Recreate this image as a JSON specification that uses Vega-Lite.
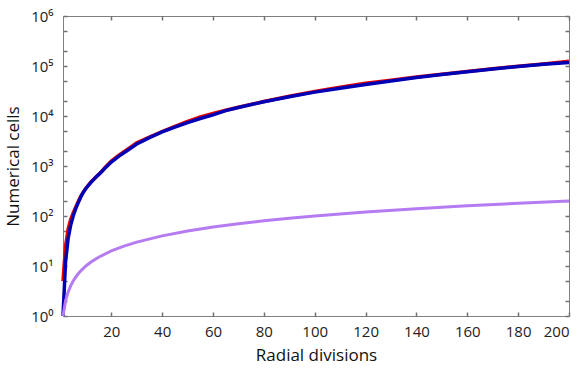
{
  "$schema": "https://vega.github.io/schema/vega-lite/v6.json",
  "width": 506,
  "height": 300,
  "autosize": {"type": "none"},
  "padding": {"left": 63, "top": 16, "right": 16, "bottom": 58},
  "config": {
    "view": {"stroke": "#808080", "strokeWidth": 1},
    "font": "Open Sans",
    "axis": {"grid": false, "domain": false, "tickColor": "#707070", "tickWidth": 1.5, "tickSize": -4, "labelColor": "#222222", "titleColor": "#111111", "labelFont": "Open Sans", "titleFont": "Open Sans", "titleFontWeight": "normal", "labelFontSize": 15, "titleFontSize": 17}
  },
  "datasets": {
    "cells": [
      {"x":1,"s":"red","y":5},{"x":2,"s":"red","y":25},{"x":3,"s":"red","y":55},{"x":4,"s":"red","y":85},{"x":5,"s":"red","y":115},{"x":6,"s":"red","y":150},{"x":7,"s":"red","y":195},{"x":8,"s":"red","y":250},{"x":9,"s":"red","y":300},{"x":10,"s":"red","y":360},{"x":12,"s":"red","y":480},{"x":14,"s":"red","y":600},{"x":16,"s":"red","y":760},{"x":18,"s":"red","y":990},{"x":20,"s":"red","y":1250},{"x":23,"s":"red","y":1650},{"x":26,"s":"red","y":2100},{"x":30,"s":"red","y":2900},{"x":35,"s":"red","y":3800},{"x":40,"s":"red","y":4900},{"x":45,"s":"red","y":6200},{"x":50,"s":"red","y":7800},{"x":55,"s":"red","y":9600},{"x":60,"s":"red","y":11200},{"x":65,"s":"red","y":13000},{"x":70,"s":"red","y":15000},{"x":80,"s":"red","y":19500},{"x":90,"s":"red","y":24800},{"x":100,"s":"red","y":31000},{"x":110,"s":"red","y":37500},{"x":120,"s":"red","y":45000},{"x":130,"s":"red","y":52000},{"x":140,"s":"red","y":60000},{"x":150,"s":"red","y":68500},{"x":160,"s":"red","y":78000},{"x":170,"s":"red","y":88000},{"x":180,"s":"red","y":99000},{"x":190,"s":"red","y":110000},{"x":200,"s":"red","y":124000},
      {"x":1,"s":"blue","y":1},{"x":2,"s":"blue","y":12},{"x":3,"s":"blue","y":35},{"x":4,"s":"blue","y":65},{"x":5,"s":"blue","y":100},{"x":6,"s":"blue","y":140},{"x":7,"s":"blue","y":185},{"x":8,"s":"blue","y":240},{"x":9,"s":"blue","y":300},{"x":10,"s":"blue","y":355},{"x":12,"s":"blue","y":470},{"x":14,"s":"blue","y":600},{"x":16,"s":"blue","y":750},{"x":18,"s":"blue","y":960},{"x":20,"s":"blue","y":1200},{"x":23,"s":"blue","y":1580},{"x":26,"s":"blue","y":2000},{"x":30,"s":"blue","y":2750},{"x":35,"s":"blue","y":3700},{"x":40,"s":"blue","y":4800},{"x":45,"s":"blue","y":6000},{"x":50,"s":"blue","y":7400},{"x":55,"s":"blue","y":8900},{"x":60,"s":"blue","y":10500},{"x":65,"s":"blue","y":12800},{"x":70,"s":"blue","y":14800},{"x":80,"s":"blue","y":19300},{"x":90,"s":"blue","y":24300},{"x":100,"s":"blue","y":30000},{"x":110,"s":"blue","y":35800},{"x":120,"s":"blue","y":42500},{"x":130,"s":"blue","y":50000},{"x":140,"s":"blue","y":58800},{"x":150,"s":"blue","y":67500},{"x":160,"s":"blue","y":77000},{"x":170,"s":"blue","y":87000},{"x":180,"s":"blue","y":97500},{"x":190,"s":"blue","y":108500},{"x":200,"s":"blue","y":118000},
      {"x":1,"s":"purple","y":1},{"x":2,"s":"purple","y":2},{"x":3,"s":"purple","y":3},{"x":4,"s":"purple","y":4},{"x":5,"s":"purple","y":5},{"x":6,"s":"purple","y":6},{"x":7,"s":"purple","y":7},{"x":8,"s":"purple","y":8},{"x":10,"s":"purple","y":10},{"x":12,"s":"purple","y":12},{"x":15,"s":"purple","y":15},{"x":20,"s":"purple","y":20},{"x":25,"s":"purple","y":25},{"x":30,"s":"purple","y":30},{"x":40,"s":"purple","y":40},{"x":50,"s":"purple","y":50},{"x":60,"s":"purple","y":60},{"x":70,"s":"purple","y":70},{"x":80,"s":"purple","y":80},{"x":90,"s":"purple","y":90},{"x":100,"s":"purple","y":100},{"x":120,"s":"purple","y":120},{"x":140,"s":"purple","y":140},{"x":160,"s":"purple","y":160},{"x":180,"s":"purple","y":180},{"x":200,"s":"purple","y":200}
    ]
  },
  "data": {"name": "cells"},
  "resolve": {"axis": {"x": "independent", "y": "independent"}},
  "layer": [
    {
      "transform": [{"filter": "datum.s == 'red'"}],
      "mark": {"type": "line", "color": "#e80000", "strokeWidth": 3.5},
      "encoding": {
        "x": {"field": "x", "type": "quantitative", "scale": {"domain": [1, 200], "nice": false}, "axis": {"title": "Radial divisions", "values": [20,40,60,80,100,120,140,160,180,200], "labelPadding": 12, "titlePadding": 8}},
        "y": {"field": "y", "type": "quantitative", "scale": {"type": "log", "domain": [1, 1000000], "nice": false}, "axis": {"title": "Numerical cells", "values": [1,2,5,10,20,50,100,200,500,1000,2000,5000,10000,20000,50000,100000,200000,500000,1000000], "labelPadding": 14, "titlePadding": 8, "labelExpr": "(datum.value==1?'10⁰':datum.value==10?'10¹':datum.value==100?'10²':datum.value==1000?'10³':datum.value==10000?'10⁴':datum.value==100000?'10⁵':datum.value==1000000?'10⁶':'')"}}
      }
    },
    {
      "transform": [{"filter": "datum.s == 'blue'"}],
      "mark": {"type": "line", "color": "#0000b4", "strokeWidth": 3.5},
      "encoding": {
        "x": {"field": "x", "type": "quantitative", "axis": {"orient": "top", "labels": false, "title": null, "values": [20,40,60,80,100,120,140,160,180,200]}},
        "y": {"field": "y", "type": "quantitative", "scale": {"type": "log"}, "axis": {"orient": "right", "labels": false, "title": null, "values": [1,2,5,10,20,50,100,200,500,1000,2000,5000,10000,20000,50000,100000,200000,500000,1000000]}}
      }
    },
    {
      "transform": [{"filter": "datum.s == 'purple'"}],
      "mark": {"type": "line", "color": "#b57cf2", "strokeWidth": 3},
      "encoding": {
        "x": {"field": "x", "type": "quantitative", "axis": null},
        "y": {"field": "y", "type": "quantitative", "scale": {"type": "log"}, "axis": null}
      }
    }
  ]
}
